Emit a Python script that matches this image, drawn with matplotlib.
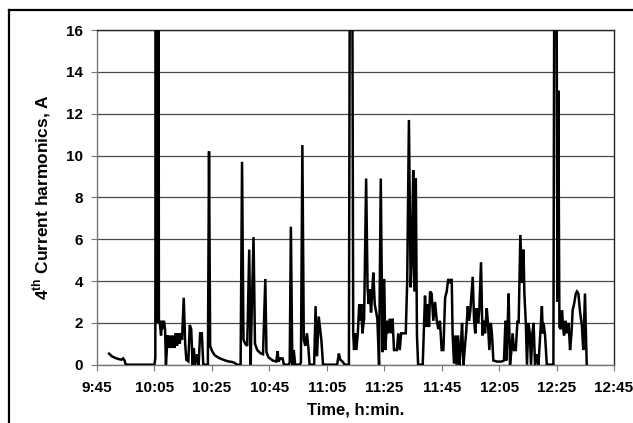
import matplotlib
matplotlib.use("Agg")
import matplotlib.pyplot as plt
from matplotlib.lines import Line2D
from matplotlib.ticker import FixedLocator, FixedFormatter

plt.rcParams['font.family'] = ['Liberation Sans', 'DejaVu Sans']
plt.rcParams['font.weight'] = 'bold'
plt.rcParams['mathtext.fontset'] = 'custom'
plt.rcParams['mathtext.rm'] = 'Liberation Sans:bold'
plt.rcParams['mathtext.bf'] = 'Liberation Sans:bold'

# Elapsed minutes since 9:45 and the 4th current harmonic (A)
minutes = [
    4.2, 5.2, 6.4, 7.5, 8.5, 9.1, 9.6, 10.0, 15.0, 20.0,
    20.3, 20.5, 20.65, 20.8, 20.95, 21.1, 21.25, 21.4, 21.55, 21.8,
    22.3, 22.6, 23.0, 23.3, 23.7, 24.0, 24.6, 25.1, 25.6, 26.0,
    26.5, 27.0, 27.4, 27.9, 28.3, 28.8, 29.3, 29.6, 30.2, 30.7,
    31.1, 31.8, 32.3, 32.8, 33.3, 33.7, 34.2, 34.9, 35.4, 35.9,
    36.5, 37.0, 38.0, 38.6, 39.0, 39.4, 40.1, 41.0, 42.5, 43.9,
    45.6, 47.1, 48.0, 48.7, 50.0, 50.5, 51.0, 51.6, 52.3, 53.0,
    53.5, 53.8, 54.5, 55.0, 55.8, 56.9, 57.8, 58.6, 59.0, 59.7,
    61.2, 62.4, 62.9, 63.2, 63.8, 64.6, 65.1, 66.7, 67.1, 67.5,
    68.0, 68.5, 69.0, 70.5, 71.0, 71.5, 72.0, 72.5, 73.1, 73.6,
    74.0, 75.6, 76.1, 76.6, 77.2, 77.6, 78.1, 78.7, 83.6, 84.2,
    84.7, 85.4, 86.3, 87.7, 88.1, 88.8, 89.2, 89.5, 89.9, 90.3,
    90.8, 91.3, 91.7, 92.0, 92.4, 93.0, 93.7, 94.2, 94.6, 95.0,
    95.4, 95.8, 96.2, 96.7, 97.2, 97.6, 98.2, 98.8, 99.4, 100.0,
    100.4, 100.9, 101.4, 101.9, 102.4, 102.9, 103.4, 104.4, 104.9, 105.4,
    105.9, 106.9, 107.5, 108.0, 108.6, 109.2, 109.6, 110.1, 110.5, 111.0,
    111.4, 111.8, 113.4, 114.2, 114.7, 115.2, 115.6, 115.95, 116.5, 117.1,
    117.7, 118.3, 118.85, 119.4, 120.0, 120.6, 121.2, 121.75, 122.3, 122.9,
    123.5, 123.8, 124.3, 124.8, 125.2, 125.7, 126.2, 126.6, 127.1, 127.6,
    128.0, 128.5, 129.1, 129.5, 130.0, 130.8, 131.3, 131.7, 132.2, 132.7,
    133.1, 133.7, 134.2, 134.6, 135.1, 135.7, 136.1, 136.6, 137.1, 137.5,
    138.0, 139.2, 140.9, 141.7, 142.2, 142.5, 142.9, 143.3, 143.8, 144.3,
    144.7, 145.2, 145.8, 146.4, 146.8, 147.4, 148.0, 148.5, 148.8, 149.3,
    149.7, 150.2, 150.7, 151.1, 151.6, 152.0, 152.5, 153.1, 153.7, 154.9,
    155.2, 155.5, 156.0, 156.6, 158.9, 159.3, 159.9, 160.3, 160.6, 161.0,
    161.5, 161.9, 162.2, 162.6, 163.1, 163.5, 164.2, 164.7, 165.2, 165.6,
    166.1, 166.7, 167.1, 167.6, 168.2, 168.8, 169.3, 169.9, 170.5,
]
current = [
    0.53, 0.40, 0.32, 0.27, 0.24, 0.30, 0.20, 0.0, 0.0, 0.0,
    0.3, 24.0, 2.0, 24.0, 2.0, 24.0, 2.0, 24.0, 2.0, 2.1,
    1.4, 2.1, 1.7, 2.1, 1.7, 0.0, 1.4, 0.8, 1.4, 0.8,
    1.4, 0.8, 1.5, 0.9, 1.5, 1.0, 1.5, 1.2, 3.2, 1.0,
    0.24, 0.16, 1.9, 1.7, 0.0, 0.8, 0.0, 0.5, 0.0, 1.5,
    1.5, 0.0, 0.0, 0.0, 10.2, 0.9, 0.64, 0.45, 0.32, 0.24,
    0.16, 0.13, 0.08, 0.0, 0.0, 9.7, 1.2, 1.0, 0.9, 5.5,
    0.0, 2.1, 6.1, 1.0, 0.7, 0.55, 0.5, 4.1, 0.6, 0.35,
    0.2, 0.15, 0.65, 0.15, 0.3, 0.3, 0.0, 0.0, 0.1, 6.6,
    0.0, 0.7, 0.0, 0.0, 0.1, 10.5, 1.2, 0.9, 1.5, 0.8,
    0.0, 0.0, 2.8, 0.4, 2.3, 1.8, 1.2, 0.0, 0.0, 0.53,
    0.24, 0.16, 0.0, 0.0, 24.0, 24.0, 1.5, 0.7, 1.5, 0.7,
    1.5, 2.9, 2.1, 2.9, 1.5, 2.2, 8.9, 3.7, 2.9, 3.6,
    2.5, 3.4, 4.4, 2.9, 2.5, 2.2, 0.0, 8.9, 0.6, 4.1,
    0.7, 2.1, 1.5, 2.2, 1.5, 2.2, 0.7, 0.7, 1.5, 0.7,
    1.5, 1.5, 1.5, 4.0, 11.7, 3.7, 5.0, 9.3, 3.5, 8.9,
    1.4, 0.0, 0.0, 3.3, 1.8, 2.9, 1.8, 3.5, 3.4, 2.1,
    3.0, 2.1, 1.7, 2.1, 0.7, 0.7, 3.2, 3.5, 4.1, 3.9,
    4.1, 1.5, 0.05, 1.4, 0.0, 1.4, 0.0, 0.7, 2.0, 0.0,
    0.7, 1.5, 2.8, 2.1, 2.6, 4.2, 2.1, 1.5, 2.7, 2.0,
    2.6, 4.9, 1.4, 2.1, 1.5, 2.7, 2.0, 0.7, 2.0, 1.5,
    0.2, 0.15, 0.15, 0.2, 2.1, 0.2, 1.5, 3.4, 0.0, 0.7,
    1.5, 0.7, 0.7, 2.1, 2.0, 6.2, 3.9, 5.5, 3.4, 2.0,
    0.0, 2.0, 1.5, 0.0, 1.5, 2.0, 0.0, 0.5, 0.0, 2.8,
    1.5, 2.0, 1.4, 0.0, 0.0, 24.0, 24.0, 3.0, 13.1, 1.8,
    1.7, 2.6, 1.9, 1.4, 2.1, 1.5, 2.0, 0.7, 1.5, 2.6,
    2.9, 3.4, 3.5, 3.4, 2.5, 1.9, 0.7, 3.4, 0.0,
]

tick_minutes = [0, 20, 40, 60, 80, 100, 120, 140, 160, 180]
tick_labels = ['9:45', '10:05', '10:25', '10:45', '11:05', '11:25',
               '11:45', '12:05', '12:25', '12:45']
y_ticks = [0, 2, 4, 6, 8, 10, 12, 14, 16]

W, H = 633, 423
fig = plt.figure(figsize=(W / 100, H / 100), dpi=100)
ax = fig.add_axes([97 / W, 1 - 364.7 / H, (614 - 97) / W, (364.7 - 30) / H])

ax.plot(minutes, current, color='black', lw=1.8, solid_joinstyle='miter', zorder=3)

ax.set_xlim(0, 180)
ax.set_ylim(0, 16)
ax.xaxis.set_major_locator(FixedLocator(tick_minutes))
ax.xaxis.set_major_formatter(FixedFormatter(tick_labels))
ax.set_yticks(y_ticks)
ax.yaxis.grid(True, color='#4a4a4a', lw=0.9)
ax.set_axisbelow(True)

for side in ('left', 'bottom'):
    ax.spines[side].set_color('#777777')
for side in ('top', 'right'):
    ax.spines[side].set_color('#222222')
for s in ax.spines.values():
    s.set_linewidth(1.0)

ax.tick_params(axis='x', direction='out', length=4, width=0.8, color='#777777',
               labelsize=11, pad=8)
ax.tick_params(axis='y', direction='out', length=4, width=0.8, color='#777777',
               labelsize=11, pad=6)
for lab in ax.get_xticklabels() + ax.get_yticklabels():
    lab.set_fontweight('bold')

ax.set_xlabel('Time, h:min.', fontsize=12, fontweight='bold', labelpad=5)
fig.text(42 / W, 1 - 197 / H, r'4$^{\mathbf{th}}$ Current harmonics, A',
         rotation=90, ha='center', va='center', fontsize=12.5, fontweight='bold')

# Chart-area frame
fig.add_artist(Line2D([8.5 / W, 8.5 / W], [0, 1 - 10 / H], color='black', lw=1.6,
                      transform=fig.transFigure))
fig.add_artist(Line2D([8.5 / W, 1.0], [1 - 10 / H, 1 - 10 / H], color='black', lw=1.6,
                      transform=fig.transFigure))

fig.savefig('out.png', dpi=100)
